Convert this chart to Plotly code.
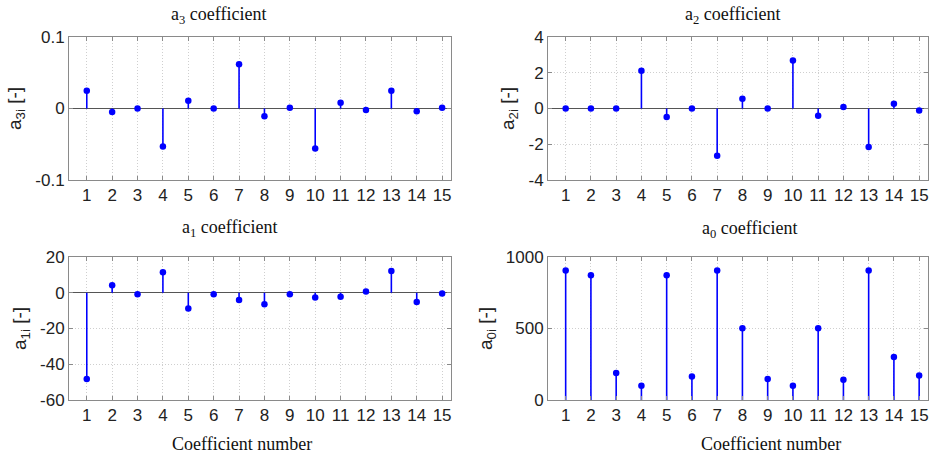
import plotly.graph_objects as go

coef = list(range(1, 16))
a3 = [0.025, -0.005, 0.0, -0.053, 0.011, 0.0, 0.062, -0.011, 0.001, -0.056, 0.008, -0.002, 0.025, -0.004, 0.001]
a2 = [0.0, 0.0, 0.0, 2.11, -0.47, 0.0, -2.64, 0.54, 0.0, 2.69, -0.41, 0.09, -2.15, 0.26, -0.11]
a1 = [-48.3, 4.2, -0.9, 11.5, -8.8, -0.8, -4.1, -6.4, -0.8, -2.6, -2.2, 0.7, 12.1, -5.2, -0.4]
a0 = [905, 872, 188, 99, 872, 164, 905, 502, 146, 99, 502, 141, 905, 300, 171]

titles = ["a<sub>3</sub> coefficient", "a<sub>2</sub> coefficient", "a<sub>1</sub> coefficient", "a<sub>0</sub> coefficient"]
ylabels = ["a<sub>3i</sub> [-]", "a<sub>2i</sub> [-]", "a<sub>1i</sub> [-]", "a<sub>0i</sub> [-]"]
yticks = [[-0.1, 0, 0.1], [-4, -2, 0, 2, 4], [-60, -40, -20, 0, 20], [0, 500, 1000]]
yticktext = [["-0.1", "0", "0.1"], ["-4", "-2", "0", "2", "4"], ["-60", "-40", "-20", "0", "20"], ["0", "500", "1000"]]
yranges = [[-0.1, 0.1], [-4, 4], [-60, 20], [0, 1000]]
series = [a3, a2, a1, a0]

W, H = 932, 454
# plot boxes in pixels (left, right, top, bottom)
boxes = [(69, 451, 37, 180), (548, 928, 37, 180), (69, 451, 257, 400), (548, 928, 257, 400)]
title_pos = [(218, 15), (732, 15), (229, 228), (749, 229)]
xlabel_pos = [(242, 444), (771, 444)]

fig = go.Figure()
BLUE = "rgb(0,0,255)"
GRID = "#cfcfcf"
FRAME = "#8a8a8a"
SANS = "Liberation Sans"
SERIF = "Liberation Serif"

for i, (vals, box) in enumerate(zip(series, boxes)):
    n = "" if i == 0 else str(i + 1)
    xs, ys = [], []
    for xv, yv in zip(coef, vals):
        xs += [xv, xv, None]
        ys += [0, yv, None]
    fig.add_trace(go.Scatter(x=xs, y=ys, mode="lines", line=dict(color=BLUE, width=1.6),
                             xaxis="x" + n, yaxis="y" + n, showlegend=False, hoverinfo="skip"))
    fig.add_trace(go.Scatter(x=coef, y=vals, mode="markers", marker=dict(color=BLUE, size=6.5),
                             xaxis="x" + n, yaxis="y" + n, showlegend=False))
    l, r, t, b = box
    xd = [l / W, r / W]
    yd = [1 - b / H, 1 - t / H]
    fig.layout["xaxis" + n] = dict(
        domain=xd, range=[0.3, 15.35], anchor="y" + n, tickvals=coef, ticktext=[str(c) for c in coef],
        showgrid=True, gridcolor=GRID, griddash="1px,2px", gridwidth=1,
        showline=True, linecolor=FRAME, linewidth=1, mirror="ticks", ticks="inside", ticklen=4, tickcolor=FRAME,
        zeroline=False, tickfont=dict(family=SANS, size=17, color="#222"),
        fixedrange=True, automargin=False,
    )
    fig.layout["yaxis" + n] = dict(
        domain=yd, range=yranges[i], anchor="x" + n, tickvals=yticks[i], ticktext=yticktext[i],
        showgrid=True, gridcolor=GRID, griddash="1px,2px", gridwidth=1,
        showline=True, linecolor=FRAME, linewidth=1, mirror="ticks", ticks="inside", ticklen=4, tickcolor=FRAME,
        zeroline=True, zerolinecolor="#555", zerolinewidth=1,
        tickfont=dict(family=SANS, size=17, color="#222"),
        title=dict(text=ylabels[i], font=dict(family=SANS, size=19, color="#222"), standoff=8),
        fixedrange=True, automargin=False,
    )
    tx, ty = title_pos[i]
    fig.add_annotation(text=titles[i], x=tx / W, y=1 - ty / H, xref="paper", yref="paper",
                       showarrow=False, yanchor="middle", xanchor="center",
                       font=dict(family=SERIF, size=18, color="#111"))

for (tx, ty) in xlabel_pos:
    fig.add_annotation(text="Coefficient number", x=tx / W, y=1 - ty / H, xref="paper", yref="paper",
                       showarrow=False, yanchor="middle", xanchor="center",
                       font=dict(family=SERIF, size=18, color="#111"))

fig.update_layout(width=W, height=H, margin=dict(l=0, r=0, t=0, b=0, autoexpand=False),
                  paper_bgcolor="white", plot_bgcolor="white", showlegend=False)
fig.write_html("out.html")
